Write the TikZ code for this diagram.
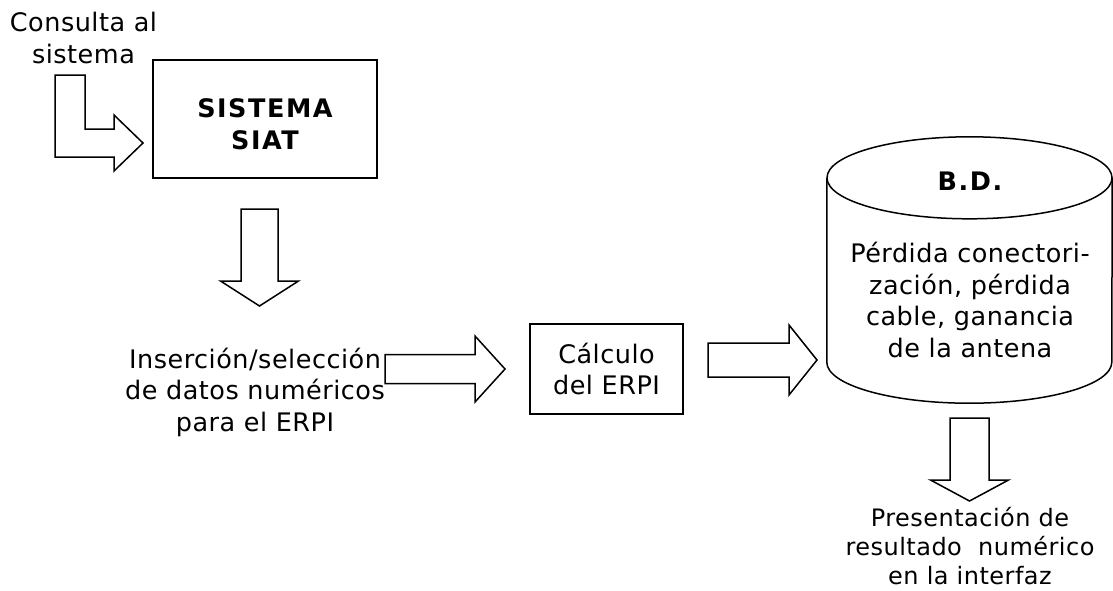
\documentclass[tikz,border=0pt]{standalone}
\usepackage{fontspec}
\setmainfont{DejaVu Sans}[LetterSpace=2]
\newfontfamily\widebold{DejaVu Sans Bold}[LetterSpace=6]
\usetikzlibrary{positioning,calc}

\tikzset{
  blk/.style={draw, line width=1.5pt, fill=white, line join=miter},
  edge/.style={draw, line width=1.5pt},
  txt/.style={align=center, inner sep=0pt, font=\fontsize{25.5}{31.5}\selectfont},
  boldtxt/.style={align=center, inner sep=0pt, font=\fontsize{25.5}{31.5}\widebold},
  smalltxt/.style={align=center, inner sep=0pt, font=\fontsize{24}{29}\selectfont},
  box/.style={draw, line width=1.5pt, align=center, inner sep=0pt, font=\fontsize{25.5}{31.5}\selectfont},
}

% block arrow: from, tip, half shaft, half head, head length
\newcommand{\blockarrow}[5]{%
  \path ($(#2)!#5!(#1)$) coordinate (ah);
  \draw[blk] ($(#1)!#3!90:(#2)$) -- ($(ah)!#3!-90:(#1)$) -- ($(ah)!#4!-90:(#1)$)
    -- (#2) -- ($(ah)!#4!90:(#1)$) -- ($(ah)!#3!90:(#1)$) -- ($(#1)!#3!-90:(#2)$) -- cycle;
}

\begin{document}
\begin{tikzpicture}[x=1pt,y=-1pt]
  \useasboundingbox (0,0) rectangle (1113,590);

  % Texts and boxes
  \node[txt] (consulta) at (83.5,38) {Consulta al\\sistema};
  \node[box, minimum width=224, minimum height=118] (siat) at (265,119) {};
  \node[boldtxt] (siattxt) at ([yshift=-5pt]siat.center) {SISTEMA\\SIAT};
  \node[txt] (ins) at (255,392) {Inserción/selección\\de datos numéricos\\para el ERPI};
  \node[box, minimum width=153, minimum height=90] (erpi) at (606.5,369) {Cálculo\\del ERPI};

  % Database
  \node[minimum width=285, minimum height=184, inner sep=0pt] (db) at (969.5,270) {};
  \draw[edge] (db.north west) -- (db.south west)
    arc[start angle=180, end angle=360, x radius=142.5pt, y radius=41pt] -- (db.north east);
  \draw[edge] (db.north) ellipse [x radius=142.5pt, y radius=41pt];
  \node[boldtxt] (bd) at (970,181) {B.D.};
  \node[txt] (dbtxt) at (970,300) {Pérdida conectori-\\zación, pérdida\\cable, ganancia\\de la antena};
  \node[smalltxt] (pres) at (970,546) {Presentación de\\resultado\ \ numérico\\en la interfaz};

  % Arrows
  \draw[blk] (55,75) -- (85,75) -- (85,129) -- (114,129) -- (114,115) -- (143,143)
    -- (114,171) -- (114,157) -- (55,157) -- cycle;

  \coordinate (a1s) at (259.5,209);
  \coordinate (a1e) at (259.5,306);
  \coordinate (a2s) at (385,369);
  \coordinate (a2e) at (505,369);
  \coordinate (a3s) at (708,360);
  \coordinate (a3e) at (817,360);
  \coordinate (a4s) at (969.5,418);
  \coordinate (a4e) at (969.5,501);

  \blockarrow{a1s}{a1e}{18.5pt}{39pt}{25pt}
  \blockarrow{a2s}{a2e}{14.5pt}{33pt}{30pt}
  \blockarrow{a3s}{a3e}{17pt}{35pt}{28pt}
  \blockarrow{a4s}{a4e}{19.5pt}{39pt}{21pt}
\end{tikzpicture}
\end{document}
